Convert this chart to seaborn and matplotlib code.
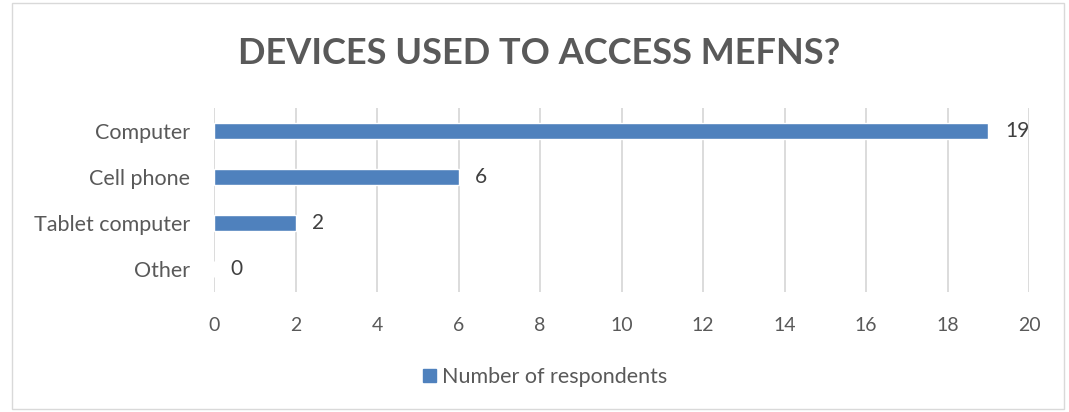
import matplotlib
matplotlib.use("Agg")
import matplotlib.pyplot as plt
import seaborn as sns
import pandas as pd
from matplotlib.patches import Rectangle

categories = ["Computer", "Cell phone", "Tablet computer", "Other"]
values = [19, 6, 2, 0]
series_name = "Number of respondents"
x_ticks = [0, 2, 4, 6, 8, 10, 12, 14, 16, 18, 20]
title = "DEVICES USED TO ACCESS MEFNS?"

sns.set_theme(style="white")
plt.rcParams['font.family'] = ['Lato', 'DejaVu Sans']

df = pd.DataFrame({"category": categories, "value": values, "series": series_name})

fig = plt.figure(figsize=(10.69, 4.12), dpi=100)
ax = fig.add_axes([214/1069, 1-292/412, (1029-214)/1069, (292-108)/412])

bar_color = "#4F81BD"
txt = "#595959"

sns.barplot(data=df, y="category", x="value", hue="series", palette=[bar_color],
            orient="h", width=0.36, ax=ax, legend=True, saturation=1)

ax.set_xlim(0, 20)
ax.set_ylim(3.5, -0.5)
ax.set_xticks(x_ticks)
ax.set_xticklabels([str(t) for t in x_ticks], fontsize=14, color=txt)
ax.tick_params(axis='y', labelsize=15.5, labelcolor=txt, length=0, pad=17)
ax.tick_params(axis='x', length=0, pad=18)
ax.set_xlabel("")
ax.set_ylabel("")
ax.grid(axis='x', color="#D9D9D9", linewidth=1.3)
ax.set_axisbelow(True)
for s in ax.spines.values():
    s.set_visible(False)

for c in ax.containers:
    ax.bar_label(c, labels=[str(v) for v in values], padding=12, fontsize=15, color="#404040")

ax.legend_.remove()
handles = [Rectangle((0, 0), 1, 1, color=bar_color)]
fig.legend(handles, [series_name], loc="center", bbox_to_anchor=(545/1069, 1-377/412),
           frameon=False, fontsize=15.5, handlelength=0.6, handleheight=0.6,
           handletextpad=0.3, labelcolor=txt)

fig.text(539/1069, 1-53/412, title, ha="center", va="center", fontsize=26,
         fontweight="bold", color=txt)

fig.patches.append(Rectangle((12/1069, 3/412), (1064-12)/1069, (409-3)/412,
                             transform=fig.transFigure, fill=False,
                             edgecolor="#D9D9D9", linewidth=1))

fig.savefig("out.png", dpi=100)
